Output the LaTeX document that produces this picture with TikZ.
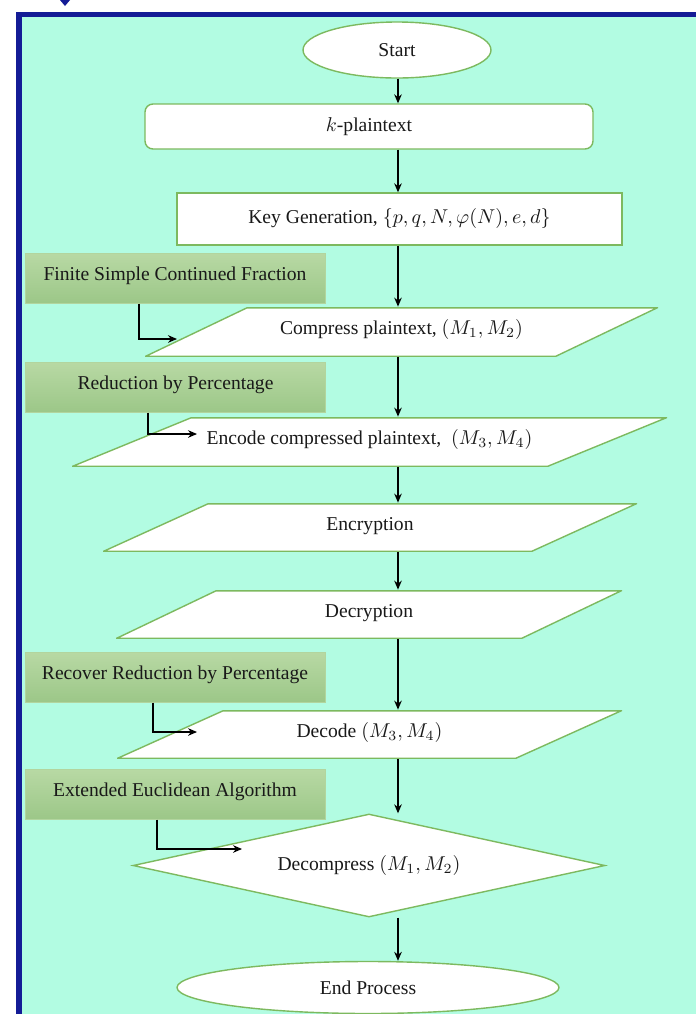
\documentclass[tikz,border=0pt]{standalone}
\usepackage{fontspec}
\setmainfont{Liberation Serif}
\usetikzlibrary{shapes.geometric,arrows.meta}

\definecolor{mint}{RGB}{178,252,226}
\definecolor{frameblue}{RGB}{20,28,150}
\definecolor{edge}{RGB}{125,185,95}
\definecolor{sidetop}{RGB}{184,217,164}
\definecolor{sidebot}{RGB}{156,199,136}

\begin{document}
\begin{tikzpicture}[x=0.5pt, y=-0.5pt,
every node/.style={font=\fontsize{9.8}{12}\selectfont, inner sep=1pt, text=black!90},
box/.style={draw=edge, fill=white, line width=0.7pt},
term/.style={box, ellipse},
io/.style={rectangle, text height=7.5pt, text depth=5pt,
    path picture={\filldraw[box] ([shift={(#1,-0.4pt)}]path picture bounding box.north west)
        -- ([shift={(-0.4pt,-0.4pt)}]path picture bounding box.north east)
        -- ([shift={(-#1,0.4pt)}]path picture bounding box.south east)
        -- ([shift={(0.4pt,0.4pt)}]path picture bounding box.south west) -- cycle;}},
side/.style={rectangle, draw=sidetop!80!sidebot, line width=0.5pt, text height=7.5pt, text depth=5pt,
    top color=sidetop, bottom color=sidebot, minimum width=150pt, minimum height=25pt},
arr/.style={-{Stealth[length=4.5pt,width=3.8pt]}, line width=0.6pt}
]
\useasboundingbox (0,0) rectangle (696,1014);

% frame
\fill[mint] (19,14.5) rectangle (696,1014);
\draw[frameblue, line width=2.6pt] (19,1014) -- (19,14.5) -- (696,14.5);
\fill[frameblue] (60,0) -- (70,0) -- (65,6) -- cycle;

% main chain
\node[term, minimum width=94pt, minimum height=28pt] (start) at (397,50) {Start};
\node[box, rounded corners=4pt, minimum width=224pt, minimum height=22.5pt] (plain) at (369,126.5) {$k$-plaintext};
\node[box, minimum width=222.5pt, minimum height=26pt, text depth=3.5pt] (keygen) at (399.5,219) {Key Generation, $\{p,q,N,\varphi(N),e,d\}$};
\node[io=51pt, minimum width=256.5pt, minimum height=25pt] (cmp) at (401.5,332) {Compress plaintext, $(M_1,M_2)$};
\node[io=59.5pt, minimum width=297.5pt, minimum height=25pt] (enc) at (369.5,442) {Encode compressed plaintext,\ \ $(M_3,M_4)$};
\node[io=52.5pt, minimum width=267pt, minimum height=24.5pt] (encr) at (370,527.5) {Encryption};
\node[io=50pt, minimum width=253pt, minimum height=24.5pt] (decr) at (369,614.5) {Decryption};
\node[io=53pt, minimum width=252.5pt, minimum height=24.5pt] (dcd) at (369.5,734.5) {Decode $(M_3,M_4)$};
\node[box, diamond, shape aspect=4.6, inner sep=0pt, minimum width=236pt, minimum height=51.5pt] (dcmp) at (369,865.5) {Decompress $(M_1,M_2)$};
\node[term, minimum width=191pt, minimum height=26pt] (stop) at (368,987.5) {End Process};

% side steps
\node[side] (fscf) at (175,278) {Finite Simple Continued Fraction};
\node[side] (rbp) at (175.5,387) {Reduction by Percentage};
\node[side] (rrbp) at (175,677) {Recover Reduction by Percentage};
\node[side] (eea) at (175,794) {Extended Euclidean Algorithm};

\coordinate (ax) at (398,0);
\coordinate (in1) at (177,339);
\coordinate (in2) at (197,434);
\coordinate (in3) at (197,732);
\coordinate (in4) at (242,849);

\foreach \i/\j in {start/plain, plain/keygen, keygen/cmp, cmp/enc, enc/encr,%
                   encr/decr, decr/dcd, dcd/dcmp, dcmp/stop}
    \draw[arr] (ax |- \i.south) -- (ax |- \j.north);

\foreach \b/\x/\c in {fscf/139/in1, rbp/148/in2, rrbp/153/in3, eea/157/in4}
    \draw[arr] (\b.south -| \x,0) |- (\c);
\end{tikzpicture}
\end{document}
